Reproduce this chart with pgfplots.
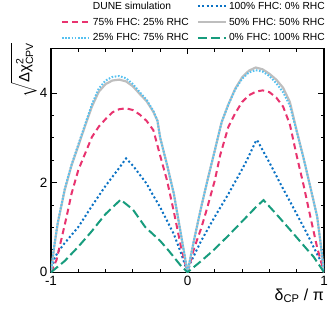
\documentclass[border=0pt]{standalone}
\usepackage{amsmath}
\usepackage{fontspec}
\setmainfont{Liberation Sans}
\usepackage{pgfplots}
\pgfplotsset{compat=1.18}

\definecolor{cpink}{HTML}{E8336F}
\definecolor{ccyan}{HTML}{56C1F0}
\definecolor{cblue}{HTML}{0A72C4}
\definecolor{cgray}{HTML}{BEBEBE}
\definecolor{cgreen}{HTML}{179C7D}

\begin{document}
\begin{tikzpicture}
\begin{axis}[
    scale only axis,
    width=273bp, height=224bp,
    xmin=-1, xmax=1, ymin=0, ymax=5,
    xtick={-1,0,1}, ytick={0,2,4},
    minor x tick num=4, minor y tick num=3,
    tick align=inside,
    major tick length=6bp, minor tick length=3.5bp,
    every tick/.style={black, line width=0.9bp},
    axis line style={line width=1.1bp},
    /pgf/number format/assume math mode=true,
    tick label style={font=\fontsize{13.5}{15}\selectfont},
    xlabel={δ\textsubscript{CP} / π},
    xlabel style={font=\fontsize{16}{18}\selectfont, at={(rel axis cs:1,0)}, anchor=north east, yshift=-16bp, inner sep=0pt},
    ylabel={$\sqrt{\text{Δχ}^{\text{2}}_{\text{CPV}}}$},
    ylabel style={font=\fontsize{15}{17}\selectfont, at={(rel axis cs:-0.1,1.025)}, anchor=east, inner sep=0pt},
    legend columns=2,
    legend cell align=left,
    legend style={draw=none, fill=none, at={(rel axis cs:0,1)}, anchor=south west, xshift=10bp, yshift=4bp,
        font=\fontsize{10.3}{12}\selectfont, inner sep=0pt, outer sep=0pt, row sep=3bp,
        nodes={inner sep=2bp},
        /tikz/column 2/.style={column sep=6bp}},
    legend image code/.code={\draw[#1] (0bp,0bp) -- (28bp,0bp);},
]
\addlegendimage{empty legend}
\addlegendentry{DUNE simulation}

% 100% FHC : 0% RHC
\addplot[cblue, line width=2bp, dash pattern=on 2bp off 2.4bp] coordinates {
(-1,0) (-0.975,0.3) (-0.95,0.45) (-0.9,0.65) (-0.8,1.01) (-0.7,1.48) (-0.6,1.93)
(-0.5,2.33) (-0.45,2.54) (-0.4,2.38) (-0.3,1.98) (-0.26,1.76) (-0.2,1.45)
(-0.1,0.85) (-0.05,0.45) (0,0)
(0.02,0.2) (0.1,0.7) (0.2,1.24) (0.3,1.75) (0.4,2.3) (0.435,2.5) (0.5,2.92)
(0.51,2.95) (0.6,2.45) (0.68,1.98) (0.8,1.3) (0.876,0.86) (0.95,0.4) (0.987,0.19) (1,0)
};
\addlegendentry{100\% FHC: 0\% RHC}

% 75% FHC : 25% RHC
\addplot[cpink, line width=2bp, dash pattern=on 6bp off 4bp] coordinates {
(-1,0) (-0.96,0.27) (-0.9,1.05) (-0.875,1.39) (-0.85,1.75) (-0.8,2.28) (-0.75,2.65)
(-0.7,3.02) (-0.65,3.25) (-0.6,3.42) (-0.55,3.57) (-0.5,3.64) (-0.45,3.66)
(-0.4,3.62) (-0.35,3.52) (-0.3,3.38) (-0.25,3.17) (-0.2,2.6) (-0.15,2.05)
(-0.1,1.35) (-0.05,0.6) (0,0)
(0.05,0.55) (0.1,0.98) (0.14,1.39) (0.2,2.05) (0.24,2.62) (0.3,3.25) (0.35,3.55)
(0.4,3.8) (0.45,3.95) (0.5,4.03) (0.55,4.06) (0.6,4.02) (0.65,3.9) (0.7,3.7)
(0.75,3.3) (0.8,2.6) (0.85,1.95) (0.9,1.24) (0.95,0.55) (1,0)
};
\addlegendentry{75\% FHC: 25\% RHC}

% 50% FHC : 50% RHC
\addplot[cgray, line width=2.2bp] coordinates {
(-1,0) (-0.975,0.6) (-0.95,1.1) (-0.9,1.83) (-0.85,2.38) (-0.8,2.82) (-0.75,3.27)
(-0.7,3.7) (-0.65,4.03) (-0.6,4.2) (-0.55,4.28) (-0.5,4.3) (-0.45,4.26)
(-0.4,4.15) (-0.35,3.98) (-0.3,3.82) (-0.25,3.58) (-0.22,3.38) (-0.2,3.0)
(-0.15,2.4) (-0.1,1.75) (-0.05,0.88) (0,0)
(0.05,0.75) (0.1,1.45) (0.15,2.1) (0.2,2.72) (0.25,3.35) (0.3,3.75)
(0.35,4.1) (0.4,4.35) (0.45,4.5) (0.5,4.57) (0.55,4.53) (0.6,4.43) (0.65,4.3)
(0.7,4.12) (0.75,3.8) (0.8,3.16) (0.85,2.55) (0.9,1.9) (0.95,1.24) (0.975,0.65) (1,0)
};
\addlegendentry{50\% FHC: 50\% RHC}

% 25% FHC : 75% RHC
\addplot[ccyan, line width=2bp, dash pattern=on 1.6bp off 1.6bp] coordinates {
(-1,0) (-0.975,0.62) (-0.95,1.12) (-0.9,1.85) (-0.85,2.4) (-0.8,2.85) (-0.75,3.3)
(-0.7,3.75) (-0.65,4.1) (-0.6,4.28) (-0.55,4.36) (-0.5,4.38) (-0.45,4.33)
(-0.4,4.2) (-0.35,4.02) (-0.3,3.85) (-0.25,3.6) (-0.22,3.38) (-0.2,3.0)
(-0.15,2.4) (-0.1,1.75) (-0.05,0.88) (0,0)
(0.05,0.75) (0.1,1.45) (0.15,2.1) (0.2,2.72) (0.25,3.35) (0.3,3.75)
(0.35,4.08) (0.4,4.32) (0.45,4.46) (0.5,4.51) (0.55,4.48) (0.6,4.38) (0.65,4.22)
(0.7,4.02) (0.75,3.72) (0.8,3.14) (0.85,2.55) (0.9,1.9) (0.95,1.24) (0.975,0.65) (1,0)
};
\addlegendentry{25\% FHC: 75\% RHC}

% 0% FHC : 100% RHC
\addplot[cgreen, line width=2bp, dash pattern=on 9bp off 4bp] coordinates {
(-1,0) (-0.9,0.25) (-0.8,0.57) (-0.7,0.92) (-0.656,1.09) (-0.6,1.3) (-0.49,1.62)
(-0.4,1.4) (-0.31,1.01) (-0.2,0.7) (-0.14,0.49) (-0.05,0.15) (0,0)
(0.1,0.25) (0.19,0.49) (0.3,0.82) (0.386,1.09) (0.5,1.45) (0.557,1.61)
(0.65,1.3) (0.754,0.94) (0.85,0.6) (0.925,0.34) (1,0)
};
\addlegendentry{0\% FHC: 100\% RHC}

\coordinate (bl) at (rel axis cs:0,0);
\coordinate (tr) at (rel axis cs:1,1);
\end{axis}
\path ([shift={(-51bp,-49bp)}]bl) rectangle ([shift={(8bp,48bp)}]tr);
\end{tikzpicture}
\end{document}
